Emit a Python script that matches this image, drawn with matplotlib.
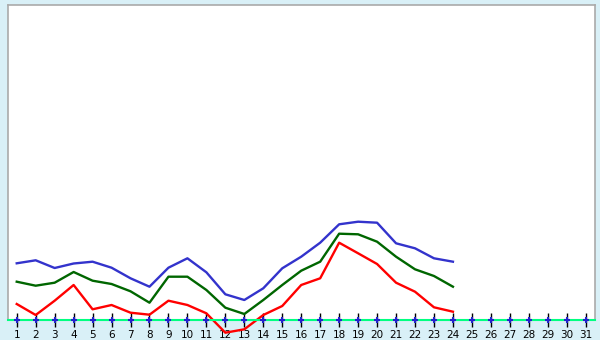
import matplotlib
matplotlib.use("Agg")
import matplotlib.pyplot as plt

# Дні місяця
days = list(range(1, 32))
data_days = list(range(1, 25))

# Значення трьох серій (оцінено з рисунка)
blue_vals = [56.7, 59.7, 52.0, 56.5, 58.3, 52.3, 41.7, 33.3, 52.3, 61.7, 47.7, 25.7,
             20.0, 31.7, 51.7, 63.3, 77.3, 95.7, 98.3, 97.3, 76.7, 71.7, 61.7, 58.3]
green_vals = [38.3, 34.3, 37.3, 48.0, 39.3, 36.0, 28.7, 17.3, 43.3, 43.3, 30.0, 12.3,
              6.0, 20.0, 35.0, 49.3, 58.3, 86.3, 85.7, 78.3, 63.3, 50.7, 44.0, 33.3]
red_vals = [16.0, 5.0, 19.3, 35.0, 10.7, 15.0, 7.3, 5.3, 19.3, 15.0, 6.7, -12.7,
            -9.3, 5.0, 14.0, 35.0, 41.7, 77.3, 66.7, 56.0, 37.3, 28.3, 12.7, 8.3]

bg = '#d9f0f7'

fig = plt.figure(figsize=(6, 3.4), dpi=100, facecolor=bg)
ax = fig.add_axes([8 / 600, 20 / 340, 587 / 600, 315 / 340])
ax.set_facecolor('white')

ax.plot(data_days, blue_vals, color='#3333cc', lw=1.7, clip_on=False, zorder=3)
ax.plot(data_days, green_vals, color='#006600', lw=1.7, clip_on=False, zorder=3)
ax.plot(data_days, red_vals, color='#ff0000', lw=1.7, clip_on=False, zorder=3)

# Маркери на осі
ax.plot(days, [0] * len(days), linestyle='none', marker='+', color='#2222cc',
        markersize=4, mew=1.5, clip_on=False, zorder=5)

ax.set_xlim(0.54, 31.49)
ax.set_ylim(0, 315)

ax.set_xticks(days)
ax.set_xticklabels([str(d) for d in days])
ax.set_yticks([])
ax.tick_params(axis='x', direction='inout', length=10, width=1, color='black',
               labelsize=7.5, pad=2)

for side in ['left', 'top', 'right']:
    ax.spines[side].set_color('#aaaaaa')
    ax.spines[side].set_linewidth(1.2)
ax.spines['bottom'].set_color('#00ff80')
ax.spines['bottom'].set_linewidth(1.5)
ax.spines['bottom'].set_zorder(4)

fig.savefig('out.png', dpi=100, facecolor=bg)
